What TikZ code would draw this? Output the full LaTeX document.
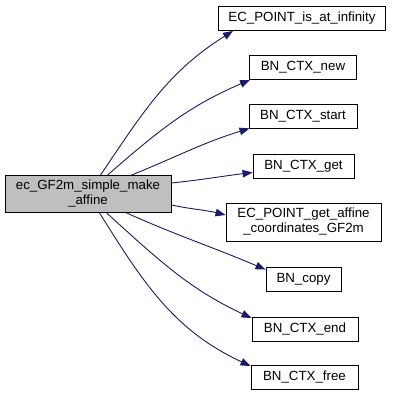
\documentclass[tikz,border=0pt]{standalone}
\usepackage{fontspec}
\setmainfont{Liberation Sans}
\usetikzlibrary{arrows.meta}
\definecolor{edgeblue}{RGB}{25,25,112}
\definecolor{mainfill}{RGB}{191,191,191}
\begin{document}
\begin{tikzpicture}[x=1pt,y=1pt,
  fn/.style={draw=black, line width=0.9pt, fill=white, inner sep=0pt,
    minimum height=24pt, align=center,
    font=\fontsize{13.3}{15}\selectfont},
  call/.style={draw=edgeblue, line width=0.9pt,
    -{Triangle[length=10pt,width=7.5pt]}}]
\useasboundingbox (0,0) rectangle (393,395);

% caller
\node[fn, fill=mainfill, minimum width=166pt, minimum height=37pt] (main) at (88,201)
  {ec\_GF2m\_simple\_make\\\_affine};

% callees
\node[fn, minimum width=167pt] (inf)    at (302,376.5) {EC\_POINT\_is\_at\_infinity};
\node[fn, minimum width=107pt] (new)    at (303,327.5) {BN\_CTX\_new};
\node[fn, minimum width=108pt] (start)  at (303,279)   {BN\_CTX\_start};
\node[fn, minimum width=101pt] (get)    at (303.5,228.5) {BN\_CTX\_get};
\node[fn, minimum width=155pt, minimum height=38pt] (affine) at (303.5,173)
  {EC\_POINT\_get\_affine\\\_coordinates\_GF2m};
\node[fn, minimum width=75pt]  (copy)   at (303.5,116) {BN\_copy};
\node[fn, minimum width=106pt] (end)    at (305,65.5)  {BN\_CTX\_end};
\node[fn, minimum width=107pt] (free)   at (304.5,17.5) {BN\_CTX\_free};

% calls
\draw[call] ([xshift=96pt]main.north west) to[out=56,in=212] ([xshift=15pt]inf.south west);
\draw[call] ([xshift=103pt]main.north west) to[out=41,in=203] ([xshift=1pt]new.south west);
\draw[call] ([xshift=127pt]main.north west) to[out=22,in=197] ([xshift=1pt]start.south west);
\draw[call] ([yshift=11pt]main.east) to[out=6,in=187] ([yshift=-6pt]get.west);
\draw[call] ([yshift=-11pt]main.east) to[out=-12,in=166] ([yshift=7pt]affine.west);
\draw[call] ([xshift=122pt]main.south west) to[out=-24,in=157] ([yshift=-3pt]copy.north west);
\draw[call] ([xshift=102pt]main.south west) to[out=-42,in=155] ([yshift=-1pt]end.north west);
\draw[call] ([xshift=95pt]main.south west) to[out=-58,in=155] ([yshift=-1pt]free.north west);
\end{tikzpicture}
\end{document}
